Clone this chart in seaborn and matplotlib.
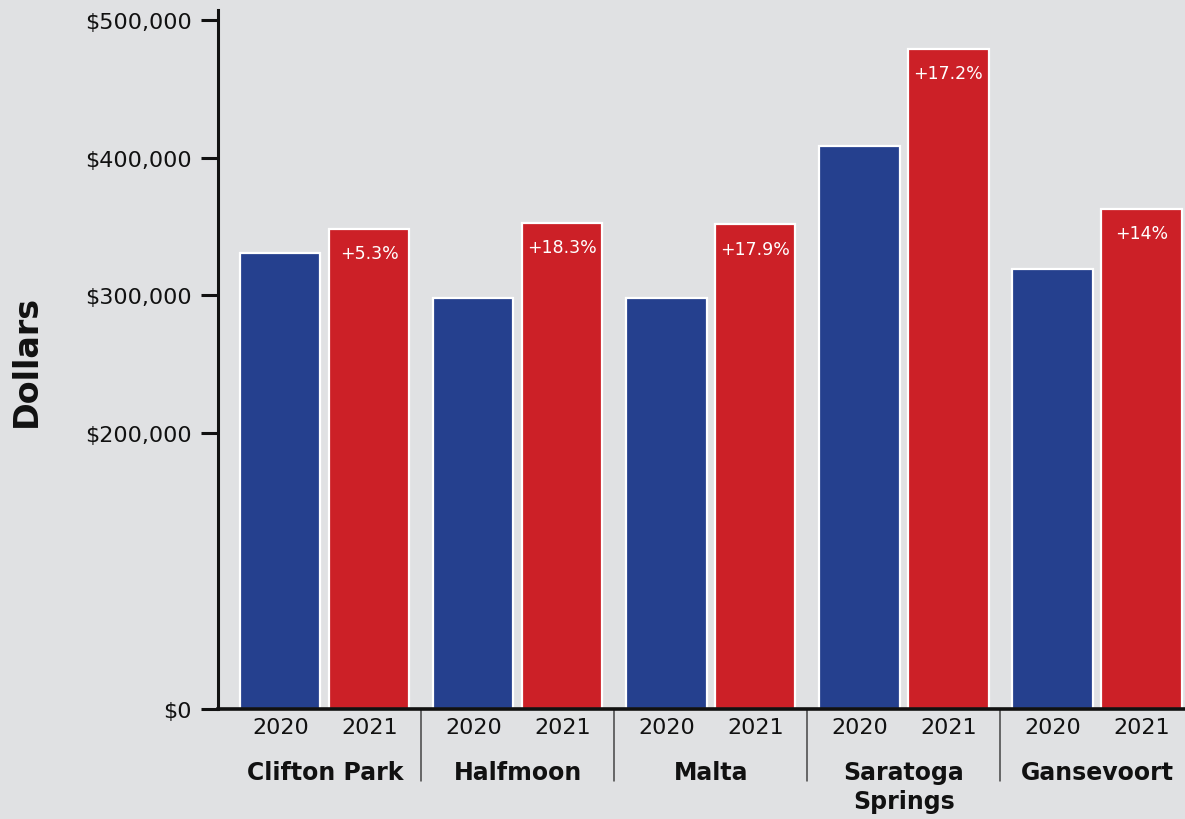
import matplotlib
matplotlib.use("Agg")
import matplotlib.pyplot as plt
import matplotlib.transforms as mtransforms
import seaborn as sns
import pandas as pd

towns = ["Clifton Park", "Halfmoon", "Malta", "Saratoga Springs", "Gansevoort"]
town_labels = ["Clifton Park", "Halfmoon", "Malta", "Saratoga\nSprings", "Gansevoort"]
years = ["2020", "2021"]
values_2020 = [331000, 298000, 298000, 408500, 319000]
values_2021 = [348500, 352500, 351500, 479000, 363000]
pct_labels = ["+5.3%", "+18.3%", "+17.9%", "+17.2%", "+14%"]
ytick_values = [0, 200000, 300000, 400000, 500000]
ytick_labels = ["$0", "$200,000", "$300,000", "$400,000", "$500,000"]

BG = "#E0E1E3"
BLUE = "#25408E"
RED = "#CC2027"

df = pd.DataFrame({
    "town": towns * 2,
    "year": [years[0]] * len(towns) + [years[1]] * len(towns),
    "value": values_2020 + values_2021,
})

sns.set_theme(style="white")
plt.rcParams["font.family"] = ["DejaVu Sans"]

fig = plt.figure(figsize=(11.85, 8.2), dpi=100, facecolor=BG)
ax = fig.add_axes([218 / 1185, 1 - 710 / 820, 1 - 218 / 1185, (710 - 11) / 820])
ax.set_facecolor(BG)

sns.barplot(data=df, x="town", y="value", hue="year", order=towns, hue_order=years,
            palette=[BLUE, RED], saturation=1, width=0.922, gap=0.1,
            edgecolor="white", linewidth=1.6, legend=False, ax=ax)

ax.set_xlim(-0.554, 4.456)
ax.set_ylim(0, 507000)

# y axis
ax.set_yticks(ytick_values)
ax.set_yticklabels(ytick_labels, fontsize=16, color="#111111")
ax.tick_params(axis="y", length=12, width=2.2, color="#111111", pad=7, left=True)
ax.set_ylabel("Dollars", fontsize=24, fontweight="bold", color="#111111")
ax.yaxis.set_label_coords(-0.181, 0.5)

# spines
for s in ["top", "right"]:
    ax.spines[s].set_visible(False)
ax.spines["left"].set_linewidth(2.2)
ax.spines["left"].set_color("#111111")
ax.spines["bottom"].set_linewidth(2.6)
ax.spines["bottom"].set_color("#111111")

# year tick labels under each bar
dodge = 0.922 / 4
xt, xl = [], []
for i in range(len(towns)):
    xt += [i - dodge, i + dodge]
    xl += years
ax.set_xticks(xt)
ax.set_xticklabels(xl, fontsize=16, color="#111111")
ax.tick_params(axis="x", length=0, pad=6)
ax.set_xlabel("")

# group labels and separators
trans = mtransforms.blended_transform_factory(ax.transData, ax.transAxes)
for i, lab in enumerate(town_labels):
    ax.text(i, -0.073, lab, transform=trans, ha="center", va="top", fontsize=17,
            fontweight="bold", color="#111111", linespacing=1.25)
for i in range(len(towns) - 1):
    ax.plot([i + 0.5, i + 0.5], [0, -0.103], transform=trans, color="#444444",
            linewidth=1.1, clip_on=False)

# percent labels inside red bars
red_container = ax.containers[1]
ax.bar_label(red_container, labels=pct_labels, padding=-24, color="white", fontsize=12.5)

fig.savefig("out.png", dpi=100, facecolor=BG)
